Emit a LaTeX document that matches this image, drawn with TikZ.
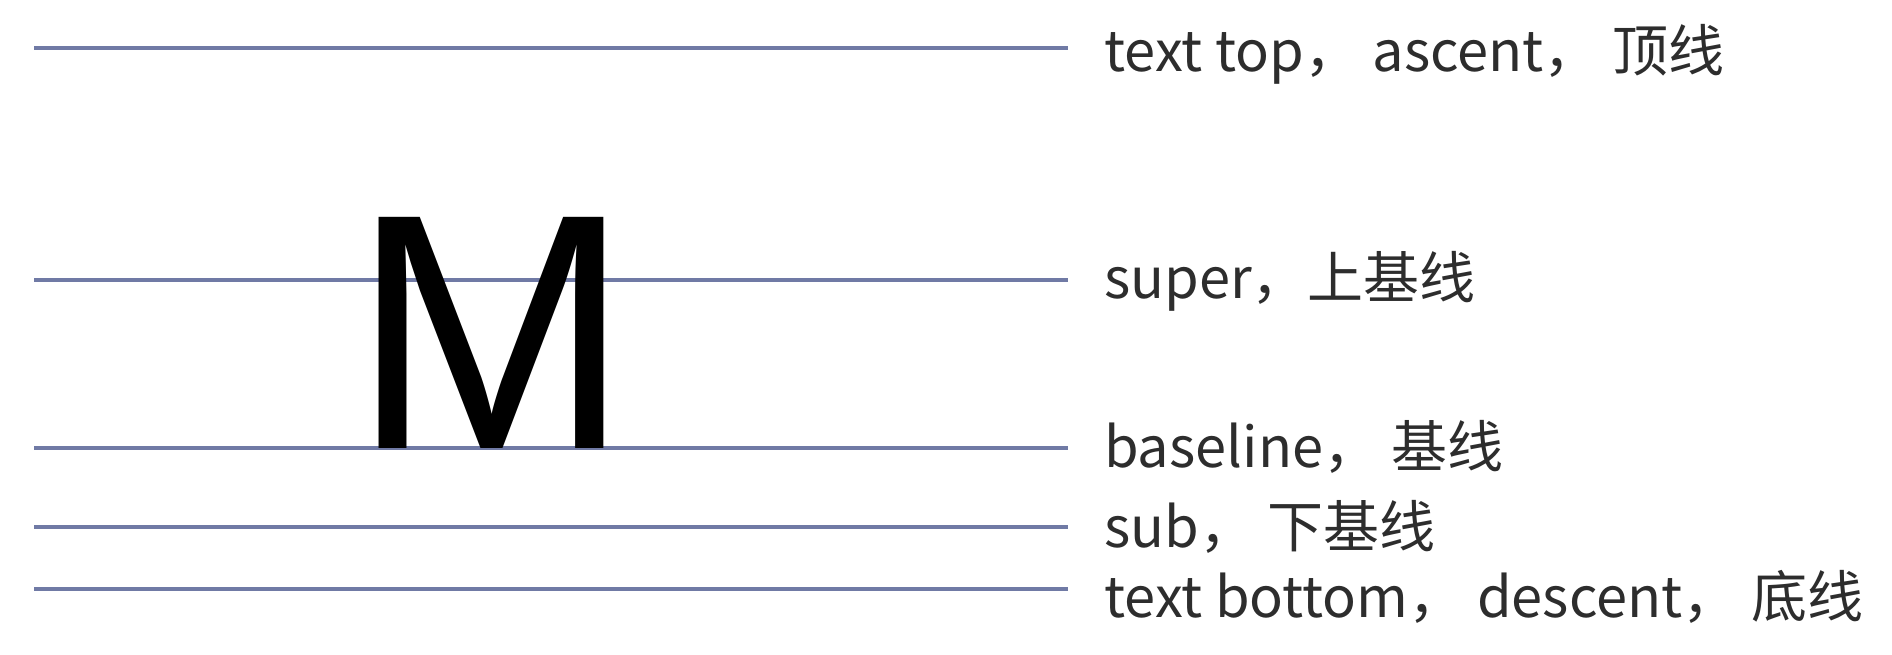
\documentclass[tikz,border=0pt]{standalone}
\usepackage{fontspec}
\setmainfont{Noto Sans CJK SC}
\newfontfamily\mfont{Liberation Sans}
\definecolor{guide}{RGB}{112,122,165}
\definecolor{txt}{RGB}{45,45,45}
\begin{document}
\begin{tikzpicture}[x=1pt,y=-1pt,
  guideline/.style={draw=guide, line width=3.3pt},
  lbl/.style={anchor=mid west, inner sep=0pt, font=\fontsize{56}{62}\selectfont, text=txt}]
\useasboundingbox (0,0) rectangle (1892,654);
% guide lines
\coordinate (topL) at (34,48);   \coordinate (topR) at (1068,48);
\coordinate (supL) at (34,280);  \coordinate (supR) at (1068,280);
\coordinate (basL) at (34,448);  \coordinate (basR) at (1068,448);
\coordinate (subL) at (34,527);  \coordinate (subR) at (1068,527);
\coordinate (botL) at (34,589);  \coordinate (botR) at (1068,589);
\draw[guideline] (topL) -- (topR);
\draw[guideline] (supL) -- (supR);
\draw[guideline] (basL) -- (basR);
\draw[guideline] (subL) -- (subR);
\draw[guideline] (botL) -- (botR);
% letter
\node[anchor=base west, inner sep=0pt, font=\mfont\fontsize{336}{336}\selectfont] (M) at (351,448) {M};
% labels
\node[lbl] (tTop) at (1104,69) {text top，\ ascent，\ 顶线};
\node[lbl] (tSup) at (1104,296) {super，上基线};
\node[lbl] (tBas) at (1104,465) {baseline，\ 基线};
\node[lbl] (tSub) at (1104,545) {sub，\ 下基线};
\node[lbl] (tBot) at (1104,615) {text bottom，\ descent，\ 底线};
\end{tikzpicture}
\end{document}
